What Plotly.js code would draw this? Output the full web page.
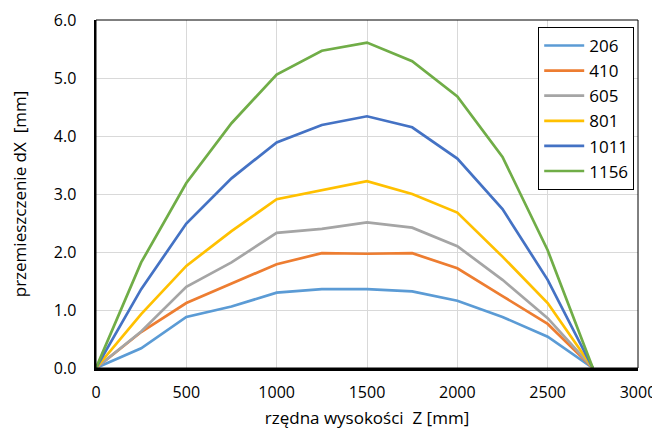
<!DOCTYPE html>
<html>
<head>
<meta charset="utf-8">
<script src="https://cdn.plot.ly/plotly-3.0.1.min.js"></script>
<style>html,body{margin:0;padding:0;background:#fff;}#chart{width:652px;height:438px;}</style>
</head>
<body>
<div id="chart"></div>
<script>
const zValues = [0, 250, 500, 750, 1000, 1250, 1500, 1750, 2000, 2250, 2500, 2750];
const seriesNames = ["206", "410", "605", "801", "1011", "1156"];
const s206  = [0, 0.34, 0.88, 1.06, 1.30, 1.36, 1.36, 1.32, 1.16, 0.88, 0.54, 0];
const s410  = [0, 0.62, 1.12, 1.45, 1.79, 1.98, 1.97, 1.98, 1.72, 1.24, 0.76, 0];
const s605  = [0, 0.63, 1.40, 1.82, 2.33, 2.40, 2.51, 2.42, 2.10, 1.52, 0.86, 0];
const s801  = [0, 0.93, 1.76, 2.36, 2.91, 3.06, 3.22, 3.00, 2.68, 1.92, 1.12, 0];
const s1011 = [0, 1.36, 2.49, 3.27, 3.89, 4.19, 4.34, 4.15, 3.61, 2.74, 1.52, 0];
const s1156 = [0, 1.82, 3.19, 4.22, 5.06, 5.47, 5.61, 5.29, 4.68, 3.64, 2.03, 0];
const seriesValues = [s206, s410, s605, s801, s1011, s1156];
const colors = ["#5b9bd5", "#ed7d31", "#a5a5a5", "#ffc000", "#4472c4", "#70ad47"];
const xTickVals = [0, 500, 1000, 1500, 2000, 2500, 3000];
const yTickVals = [0, 1, 2, 3, 4, 5, 6];
const yTickText = ["0.0", "1.0", "2.0", "3.0", "4.0", "5.0", "6.0"];

const FONT = "Open Sans, Noto Sans, sans-serif";
const traces = seriesNames.map((n, i) => ({
  x: zValues, y: seriesValues[i], name: n, type: "scatter", mode: "lines",
  line: {color: colors[i], width: 2.7}
}));

const layout = {
  width: 652, height: 438,
  margin: {l: 96, r: 14, t: 20, b: 70},
  paper_bgcolor: "#fff", plot_bgcolor: "#fff",
  font: {family: FONT, size: 16, color: "#000"},
  showlegend: true,
  legend: {
    x: 0.993, y: 0.98, xanchor: "right", yanchor: "top",
    bgcolor: "#fff", bordercolor: "#000", borderwidth: 1,
    font: {family: FONT, size: 17, color: "#000"},
    tracegroupgap: 0, itemwidth: 40
  },
  xaxis: {
    range: [0, 3000], tickvals: xTickVals, ticks: "",
    showgrid: true, gridcolor: "#d9d9d9", gridwidth: 1,
    showline: true, linecolor: "#000", linewidth: 2.5, mirror: false,
    zeroline: false, ticklen: 0, ticklabelstandoff: 8, ticklabeloverflow: "allow",
    title: {text: "rzędna wysokości\u00a0\u00a0Z [mm]", font: {family: FONT, size: 17}, standoff: 11},
    tickfont: {family: FONT, size: 16}
  },
  yaxis: {
    range: [0, 6], tickvals: yTickVals, ticktext: yTickText, ticks: "",
    showgrid: true, gridcolor: "#d9d9d9", gridwidth: 1,
    showline: true, linecolor: "#000", linewidth: 2.5,
    zeroline: false, ticklabelstandoff: 14,
    title: {text: "przemieszczenie dX\u00a0\u00a0[mm]", font: {family: FONT, size: 17}, standoff: 23},
    tickfont: {family: FONT, size: 16}
  },
  shapes: [{
    type: "rect", xref: "paper", yref: "paper", x0: 0, x1: 1, y0: 0, y1: 1,
    line: {color: "#000", width: 1}, fillcolor: "rgba(0,0,0,0)", layer: "above"
  }]
};

Plotly.newPlot("chart", traces, layout, {staticPlot: true, displayModeBar: false});
</script>
</body>
</html>
